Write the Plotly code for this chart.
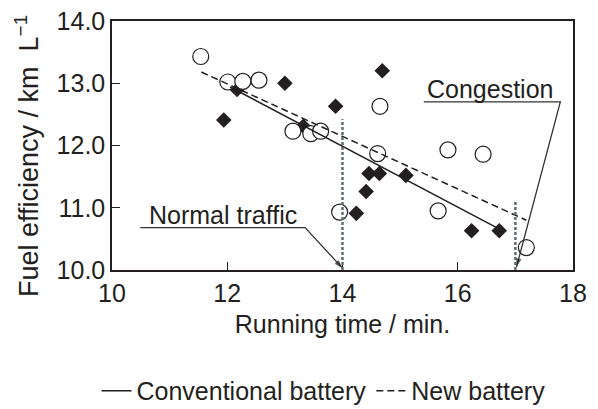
import plotly.graph_objects as go

# ---- data ----
conv_time = [11.94, 12.17, 13.00, 13.32, 13.88, 14.69, 14.46, 14.64, 15.10, 14.41, 14.24, 16.24, 16.72]
conv_fe = [12.41, 12.90, 13.00, 12.31, 12.63, 13.20, 11.55, 11.55, 11.52, 11.26, 10.91, 10.63, 10.63]
new_time = [11.54, 12.01, 12.27, 12.55, 13.14, 13.45, 13.62, 14.65, 14.61, 15.83, 16.44, 13.95, 15.66, 17.19]
new_fe = [13.43, 13.02, 13.03, 13.05, 12.23, 12.19, 12.23, 12.63, 11.87, 11.93, 11.86, 10.93, 10.95, 10.36]

conv_fit_time = [12.05, 16.70]
conv_fit_fe = [12.94, 10.67]
new_fit_time = [11.55, 17.19]
new_fit_fe = [13.18, 10.80]

marker_times = [14.0, 17.0]
marker_tops = [12.42, 11.10]

# callout leader lines: underline start, underline end, arrow tip
normal_x = [10.49, 13.35, 14.0]
normal_y = [10.68, 10.68, 10.03]
cong_x = [15.41, 17.78, 17.02]
cong_y = [12.70, 12.70, 10.05]

x_ticks = [10, 12, 14, 16, 18]
y_ticks = [10.0, 11.0, 12.0, 13.0, 14.0]

INK = "#231f20"
GREY = "#5f6f74"
FONT = "Liberation Sans, Arial, Helvetica, sans-serif"
FS = 25

fig = go.Figure()

fig.add_trace(go.Scatter(
    x=conv_time, y=conv_fe, mode="markers", showlegend=False,
    marker=dict(symbol="diamond", size=12, color=INK, line=dict(width=0)),
    hoverinfo="skip"))
fig.add_trace(go.Scatter(
    x=new_time, y=new_fe, mode="markers", showlegend=False,
    marker=dict(symbol="circle", size=16, color="white", line=dict(width=1.2, color=INK)),
    hoverinfo="skip"))
fig.add_trace(go.Scatter(
    x=conv_fit_time, y=conv_fit_fe, mode="lines", name="Conventional battery",
    line=dict(color=INK, width=1.5)))
fig.add_trace(go.Scatter(
    x=new_fit_time, y=new_fit_fe, mode="lines", name="New battery",
    line=dict(color=INK, width=1.5, dash="7px,4px")))

for t, top in zip(marker_times, marker_tops):
    fig.add_shape(type="line", x0=t, x1=t, y0=10.0, y1=top, xref="x", yref="y",
                  line=dict(color=GREY, width=2.5, dash="3px,2px"), layer="above")

# callout leader lines with arrowheads
for lx, ly in [(normal_x, normal_y), (cong_x, cong_y)]:
    fig.add_trace(go.Scatter(
        x=lx, y=ly, mode="lines+markers", showlegend=False, hoverinfo="skip",
        line=dict(color="#333", width=1.3),
        marker=dict(symbol="arrow", size=[0, 0, 9], angleref="previous", color=INK,
                    line=dict(width=0))))

fig.add_annotation(x=10.60, y=normal_y[0], xanchor="left", yanchor="bottom", text="Normal traffic",
                   showarrow=False, font=dict(family=FONT, size=FS, color=INK), yshift=-3)
fig.add_annotation(x=15.43, y=cong_y[0], xanchor="left", yanchor="bottom", text="Congestion",
                   showarrow=False, font=dict(family=FONT, size=FS, color=INK), yshift=-3)

# y-axis title as annotation for placement control
fig.add_annotation(xref="paper", yref="paper", x=(27 - 112) / 461, y=(270 - 156) / 249,
                   text="Fuel efficiency / km\u00a0\u00a0L<sup>\u22121</sup>", textangle=-90,
                   showarrow=False, xanchor="center", yanchor="middle",
                   font=dict(family=FONT, size=27, color=INK))

fig.update_xaxes(range=[10, 18], tickvals=x_ticks, ticktext=[str(v) for v in x_ticks],
                 ticks="inside", ticklen=8, tickwidth=1.3, tickcolor=INK,
                 showline=True, linecolor=INK, linewidth=1.5, mirror=True,
                 showgrid=False, zeroline=False, automargin=False,
                 ticklabeloverflow="allow",
                 tickfont=dict(family=FONT, size=FS, color=INK),
                 title=dict(text="Running time / min.", font=dict(family=FONT, size=FS, color=INK),
                            standoff=10))
fig.update_yaxes(range=[10, 14], tickvals=y_ticks, ticktext=[f"{v:.1f}" for v in y_ticks],
                 ticks="inside", ticklen=8, tickwidth=1.3, tickcolor=INK,
                 showline=True, linecolor=INK, linewidth=1.5, mirror=True,
                 showgrid=False, zeroline=False, automargin=False,
                 ticklabeloverflow="allow",
                 tickfont=dict(family=FONT, size=FS, color=INK))

# the page body has an 8px margin, so the figure is offset 8px from the window corner
fig.update_layout(
    width=590, height=401,
    margin=dict(l=104, r=25, t=13, b=139, autoexpand=False),
    plot_bgcolor="white", paper_bgcolor="white",
    font=dict(family=FONT, color=INK),
    legend=dict(orientation="h", xref="container", x=0.15, xanchor="left",
                yref="container", y=0.045, yanchor="middle",
                font=dict(family=FONT, size=25, color=INK), itemwidth=30,
                tracegroupgap=0, bgcolor="rgba(0,0,0,0)"),
)

fig.write_html("out.html")
